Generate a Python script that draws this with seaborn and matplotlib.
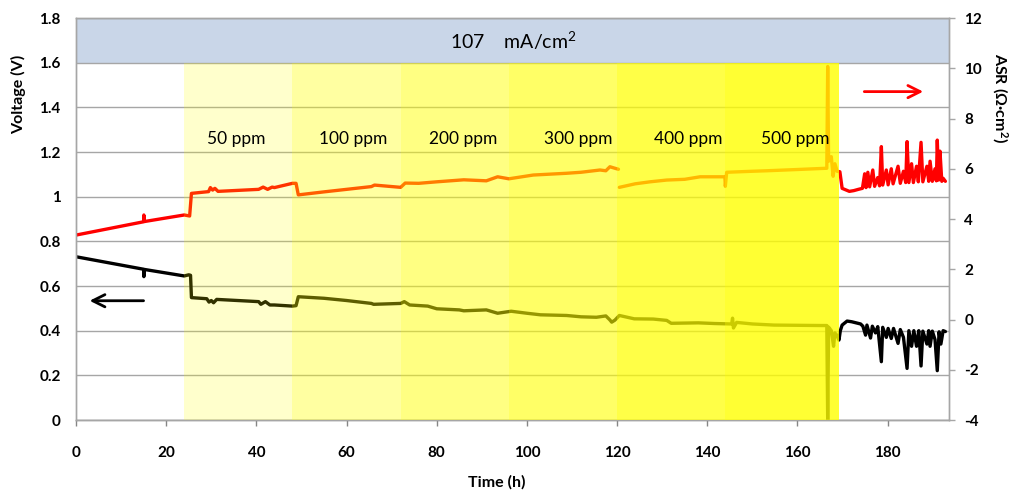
import matplotlib
matplotlib.use("Agg")
import matplotlib.pyplot as plt
import numpy as np
import pandas as pd
import seaborn as sns

# ---------------- data ----------------
# Cell voltage (black, left axis)
volt_t = [0, 15.0, 15.05, 15.2, 24.0, 25.0, 25.4, 25.6, 29.0, 29.5, 30.0, 30.5, 31.2,
          40.5, 41.0, 42.0, 43.0, 44.0, 48.0, 48.8, 49.3, 55.0, 60.0, 65.5, 66.0, 72.0,
          72.8, 74.0, 78.0, 80.0, 85.0, 86.0, 91.0, 93.5, 96.5, 100.0, 103.0, 108.8,
          112.0, 115.4, 117.5, 118.4, 118.8, 119.5, 120.5, 123.8, 128.0, 131.0, 132.0,
          138.0, 141.6, 145.4, 145.6, 145.8, 146.5, 150.0, 154.8, 160.0, 165.3, 166.5,
          166.7, 166.9, 167.5, 167.7, 168.0, 168.3, 168.7,
          169.2, 169.5, 169.9, 171.0, 172.0, 173.0, 174.0, 174.5, 175.1, 175.4, 176.2,
          176.6, 177.3, 177.8, 178.6, 178.9, 179.7, 180.1, 180.8, 181.3, 182.3, 182.8,
          183.5, 184.3, 184.7, 185.3, 185.8, 186.4, 186.9, 187.4, 187.8, 188.7, 189.1,
          189.4, 189.9, 190.5, 191.0, 191.4, 191.8, 192.3, 192.8]
volt_v = [0.731, 0.675, 0.642, 0.674, 0.645, 0.650, 0.648, 0.548, 0.543, 0.528, 0.535, 0.525, 0.540,
          0.530, 0.518, 0.530, 0.515, 0.515, 0.510, 0.512, 0.552, 0.545, 0.535, 0.522, 0.518, 0.522,
          0.530, 0.515, 0.510, 0.498, 0.493, 0.489, 0.493, 0.478, 0.487, 0.478, 0.471, 0.468,
          0.462, 0.460, 0.466, 0.448, 0.438, 0.447, 0.468, 0.453, 0.452, 0.446, 0.433,
          0.435, 0.432, 0.430, 0.456, 0.412, 0.437, 0.430, 0.425, 0.424, 0.423, 0.423,
          0.0, 0.416, 0.40, 0.373, 0.330, 0.390, 0.380,
          0.358, 0.400, 0.425, 0.443, 0.440, 0.435, 0.430, 0.420, 0.380, 0.425, 0.367,
          0.420, 0.390, 0.418, 0.261, 0.415, 0.370, 0.410, 0.365, 0.410, 0.343, 0.405,
          0.370, 0.231, 0.400, 0.330, 0.400, 0.330, 0.400, 0.242, 0.398, 0.340, 0.400,
          0.330, 0.398, 0.360, 0.221, 0.395, 0.340, 0.400, 0.396]

# Area specific resistance (red, right axis)
asr_t = [0, 15.0, 15.05, 15.2, 24.0, 25.2, 25.6, 29.4, 29.8, 30.3, 30.8, 31.5, 40.5, 41.5,
         42.5, 43.5, 44.0, 48.0, 48.8, 49.3, 55.0, 60.0, 65.5, 66.2, 72.0, 73.0, 76.0,
         80.0, 86.0, 91.0, 93.5, 96.0, 101.4, 108.8, 112.0, 116.2, 117.5, 118.4, 119.5,
         120.3,
         120.5, 124.0, 127.3, 131.0, 135.0, 138.4, 143.9, 144.0, 144.3, 150.0, 153.2,
         160.0, 166.5, 166.7, 166.9, 167.5, 167.9, 168.3, 168.8,
         169.4, 169.9, 171.5, 172.5, 173.5, 174.4, 174.9, 175.2, 175.6, 176.0, 176.7,
         177.1, 177.8, 178.2, 178.6, 178.9, 179.7, 180.1, 180.8, 181.2, 182.3, 182.8,
         183.5, 184.0, 184.3, 184.7, 185.3, 185.7, 186.4, 186.8, 187.4, 187.8, 188.7,
         189.1, 189.4, 189.9, 190.5, 190.8, 191.0, 191.3, 191.6, 192.0, 192.3, 192.8]
asr_v = [3.36, 3.89, 4.16, 3.90, 4.16, 4.12, 5.02, 5.09, 5.25, 5.15, 5.22, 5.10, 5.18, 5.27,
         5.18, 5.27, 5.25, 5.42, 5.42, 4.96, 5.08, 5.18, 5.29, 5.35, 5.26, 5.43, 5.42,
         5.48, 5.56, 5.52, 5.68, 5.60, 5.75, 5.82, 5.86, 5.95, 5.92, 6.08, 6.02,
         5.98,
         5.26, 5.40, 5.48, 5.55, 5.58, 5.68, 5.68, 5.30, 5.86, 5.90, 5.92,
         5.97, 6.02, 10.07, 6.30, 6.48, 5.70, 6.20, 5.90,
         5.88, 5.22, 5.10, 5.13, 5.18, 5.22, 5.80, 5.25, 5.86, 5.28, 5.95,
         5.30, 5.65, 5.32, 6.88, 5.35, 5.95, 5.36, 6.00, 5.40, 6.10, 5.42,
         5.90, 5.45, 7.08, 5.45, 6.20, 5.45, 6.10, 5.48, 7.05, 5.48, 6.10,
         5.50, 6.30, 5.50, 6.00, 5.52, 7.14, 5.55, 6.70, 5.50, 5.62, 5.50]
asr_break_after = 120.3   # the ASR trace is interrupted here

# H2S dosing periods
dose_labels = ["50 ppm", "100 ppm", "200 ppm", "300 ppm", "400 ppm", "500 ppm"]
dose_start = [24, 48, 72, 96, 120, 144]
dose_end = [48, 72, 96, 120, 144, 169.2]
dose_label_t = [35.5, 61.4, 85.8, 111.3, 135.7, 159.5]

current_density_text = "107    mA/cm$^{2}$"
x_ticks = list(range(0, 200, 20))
left_ticks = [0, 0.2, 0.4, 0.6, 0.8, 1.0, 1.2, 1.4, 1.6, 1.8]
right_ticks = [-4, -2, 0, 2, 4, 6, 8, 10, 12]

# ---------------- styling ----------------
sns.set_theme(style="white")
plt.rcParams['font.family'] = ['Lato', 'DejaVu Sans']
plt.rcParams['axes.unicode_minus'] = False
plt.rcParams['mathtext.fontset'] = 'custom'
plt.rcParams['mathtext.rm'] = 'Lato'
plt.rcParams['mathtext.bf'] = 'Lato:bold'

band_alpha = [0.2, 0.37, 0.49, 0.6, 0.72, 0.8]
GRID = '#A6A6A6'
LW = 2.4

fig = plt.figure(figsize=(10.12, 4.94), dpi=100)
ax1 = fig.add_axes([76 / 1012, 74 / 494, 873 / 1012, 402 / 494])
ax2 = ax1.twinx()

# banner
ax1.axhspan(1.6, 1.8, color='#C9D6E8', lw=0, zorder=0)
ax1.set_ylim(0, 1.8)
ax1.set_xlim(0, 193.6)
ax2.set_ylim(-4, 12)
ax1.set_yticks(left_ticks)
ax1.set_yticklabels([("%g" % v) for v in left_ticks])
ax2.set_yticks(right_ticks)
ax2.set_yticklabels([str(v) for v in right_ticks])
ax1.set_xticks(x_ticks)
ax1.grid(axis='y', color=GRID, lw=1.0, zorder=1)
ax1.grid(axis='x', visible=False)
ax2.grid(False)

df_v = pd.DataFrame({"t": volt_t, "v": volt_v})
df_v["seg"] = 0
df_a = pd.DataFrame({"t": asr_t, "v": asr_v})
df_a["seg"] = (df_a["t"] > asr_break_after).astype(int)

sns.lineplot(data=df_v, x="t", y="v", units="seg", estimator=None, sort=False,
             ax=ax1, color="black", lw=LW, zorder=2)
sns.lineplot(data=df_a, x="t", y="v", units="seg", estimator=None, sort=False,
             ax=ax2, color="#FF0000", lw=LW, zorder=2)

# dosing bands drawn above the traces (semi-transparent)
for s, e, a in zip(dose_start, dose_end, band_alpha):
    ax2.axvspan(s, e, ymin=0, ymax=1.6 / 1.8, color='#FFFF00', alpha=a, lw=0, zorder=3)

for lab, t in zip(dose_labels, dose_label_t):
    ax2.text(t, 1.26, lab, transform=ax1.transData, ha='center', va='center',
             fontsize=12.5, color='black', zorder=6)

ax2.text(96.9, 1.70, current_density_text, transform=ax1.transData, ha='center',
         va='center', fontsize=14, color='black', zorder=6)

# axis arrows
ax2.annotate('', xy=(2.4, 0.534), xytext=(15.6, 0.534), xycoords=ax1.transData,
             textcoords=ax1.transData,
             arrowprops=dict(arrowstyle='->', color='black', lw=2, mutation_scale=22),
             zorder=6)
ax2.annotate('', xy=(188.5, 9.07), xytext=(174.2, 9.07),
             arrowprops=dict(arrowstyle='->', color='#FF0000', lw=2, mutation_scale=22),
             zorder=6)

# labels
lab_kw = dict(fontsize=11.5, fontweight='bold', color='black')
ax1.set_xlabel("Time (h)", **lab_kw)
ax1.xaxis.set_label_coords(0.482, -0.137)
ax1.set_ylabel("Voltage (V)", **lab_kw)
ax1.yaxis.set_label_coords(-0.066, 0.81)
ax2.set_ylabel(r"ASR (Ω·cm$\mathbf{^{2}}$)", rotation=270, **lab_kw)
ax2.yaxis.set_label_coords(1.058, 0.80)
ax2.yaxis.label.set_va('center')
ax1.yaxis.label.set_va('center')

for ax in (ax1, ax2):
    for sp in ax.spines.values():
        sp.set_color(GRID)
        sp.set_linewidth(1.0)
ax1.spines['bottom'].set_color('#868686')

ax1.tick_params(axis='y', length=0, pad=11, labelsize=11, labelcolor='black')
ax1.tick_params(axis='x', direction='out', length=4, width=1, color='#868686',
                pad=15, labelsize=11, labelcolor='black', bottom=True)
ax2.tick_params(axis='y', direction='out', length=4, width=1, color=GRID,
                pad=7, labelsize=11, labelcolor='black', right=True)
for lbl in ax1.get_xticklabels() + ax1.get_yticklabels() + ax2.get_yticklabels():
    lbl.set_fontweight('bold')

fig.savefig("out.png", dpi=100)
